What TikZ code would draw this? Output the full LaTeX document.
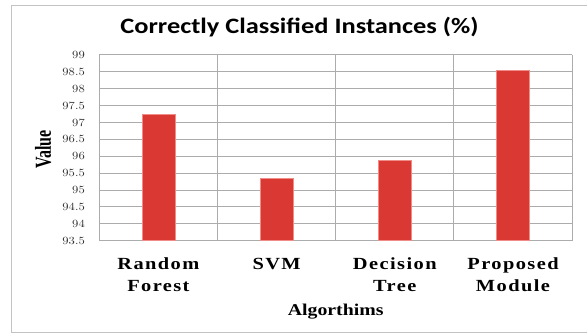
\documentclass[tikz,border=0pt]{standalone}
\usepackage{fontspec}
\usetikzlibrary{positioning}
\newfontfamily\titlefont{Carlito}
\newfontfamily\tickfont{DejaVu Sans}
\newfontfamily\catfont[LetterSpace=7]{Liberation Serif}
\newfontfamily\axfont{Liberation Serif}
\definecolor{barred}{RGB}{218,57,51}
\definecolor{baredge}{RGB}{240,140,135}
\definecolor{gridgray}{RGB}{172,172,172}
\definecolor{framegray}{RGB}{195,195,195}
\definecolor{ticktext}{RGB}{50,50,50}
% value -> pixel row
\newcommand{\valy}[1]{55+(99-#1)*33.76}

\begin{document}
\begin{tikzpicture}[
  x=1pt, y=-1pt,
  framebox/.style={draw=framegray,line width=0.9pt},
  gridline/.style={draw=gridgray,line width=1pt},
  bar/.style={fill=barred,draw=baredge,line width=0.5pt},
  ticklb/.style={anchor=east,inner sep=0pt,text=ticktext,
    font=\tickfont\fontsize{10.5}{12}\selectfont},
  catlb/.style={anchor=north,inner sep=0pt,align=center,xscale=1.2,
    font=\catfont\bfseries\fontsize{17}{22.4}\selectfont},
  axlb/.style={inner sep=0pt,xscale=1.2,font=\axfont\bfseries\fontsize{16.5}{20}\selectfont}
]
\useasboundingbox (0,0) rectangle (587,334);

% outer frame (right side runs off the page)
\draw[framebox] (600,5.3) -- (11.7,5.3) -- (11.7,332.7) -- (600,332.7);

% title
\node[anchor=base,inner sep=0pt,
  font=\titlefont\bfseries\fontsize{22}{26}\selectfont] (title)
  at (299.5,34) {\scalebox{1.2}[1]{Correctly Classified Instances (\%)}};

% horizontal grid + tick labels
\foreach \v in {93.5,94.0,...,99.0} {
  \draw[gridline] (99.3,{\valy{\v}}) -- (572.2,{\valy{\v}});
  \node[ticklb] (tick\v) at (85,{\valy{\v}}) {\scalebox{1.15}[1]{\pgfmathprintnumber{\v}}};
}

% vertical category lines
\foreach \i in {0,...,4}
  \draw[gridline] ({99.3+118.2*\i},55) -- ({99.3+118.2*\i},240.7);

% bars
\foreach \val [count=\i from 0] in {97.25,95.35,95.88,98.55}
  \draw[bar] ({158.4+118.2*\i-16.5},240.2) rectangle ({158.4+118.2*\i+16.5},{\valy{\val}});

% category labels
\node[catlb] (rf)  at (158.4,253.3) {\strut Random\\Forest};
\node[catlb] (svm) at (276.6,253.3) {\strut SVM};
\node[catlb] (dt)  at (394.8,253.3) {\strut Decision\\Tree};
\node[catlb] (pm)  at (513.0,253.3) {\strut Proposed\\Module};

% axis titles
\node[axlb,anchor=base] (xlab) at (335.7,315) {Algorthims};
\node[axlb,xscale=1,rotate=90,font=\axfont\bfseries\fontsize{16}{20}\selectfont]
  (ylab) at (43,149.3) {\scalebox{1}[1.19]{Value}};

\end{tikzpicture}
\end{document}
